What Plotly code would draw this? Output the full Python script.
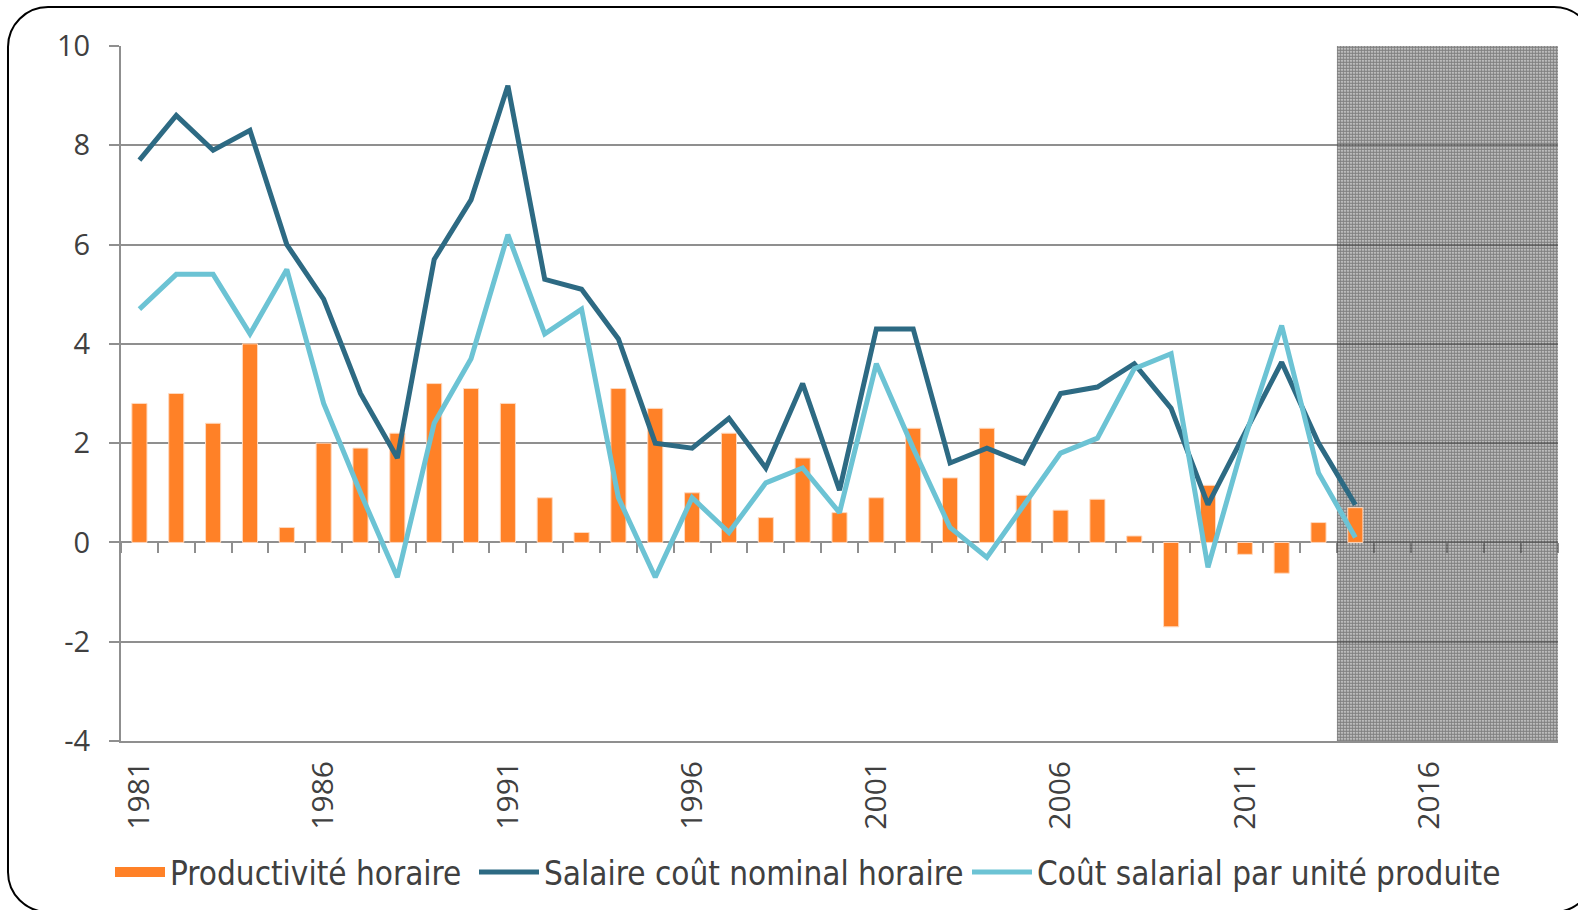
import plotly.graph_objects as go

# ---- data ----
years = list(range(1981, 2015))
productivite = [2.8, 3.0, 2.4, 4.0, 0.3, 2.0, 1.9, 2.2, 3.2, 3.1,
                2.8, 0.9, 0.2, 3.1, 2.7, 1.0, 2.2, 0.5, 1.7, 0.6,
                0.9, 2.3, 1.3, 2.3, 0.95, 0.65, 0.87, 0.13, -1.7, 1.15,
                -0.24, -0.62, 0.4, 0.7]
salaire_nominal = [7.7, 8.6, 7.9, 8.3, 6.0, 4.9, 3.0, 1.7, 5.7, 6.9,
                   9.2, 5.3, 5.1, 4.1, 2.0, 1.9, 2.5, 1.5, 3.2, 1.05,
                   4.3, 4.3, 1.6, 1.9, 1.6, 3.0, 3.13, 3.6, 2.7, 0.76,
                   2.2, 3.63, 2.0, 0.76]
cout_unitaire = [4.7, 5.4, 5.4, 4.2, 5.5, 2.8, 1.0, -0.7, 2.4, 3.7,
                 6.2, 4.2, 4.7, 0.9, -0.7, 0.9, 0.2, 1.2, 1.5, 0.6,
                 3.6, 1.9, 0.3, -0.3, 0.75, 1.8, 2.1, 3.5, 3.8, -0.5,
                 2.1, 4.37, 1.4, 0.1]
axis_first_year, axis_last_year = 1981, 2019
forecast_first_year = 2014
tick_years = [1981, 1986, 1991, 1996, 2001, 2006, 2011, 2016]
y_ticks = [-4, -2, 0, 2, 4, 6, 8, 10]
y_min, y_max = -4, 10
series_names = ["Productivité horaire", "Salaire coût nominal horaire",
                "Coût salarial par unité produite"]

# ---- styling ----
W, H = 1578, 910
ML, MR, MT, MB = 121, 20, 46, 169
ORANGE = "#FF8127"
DARK = "#2D6A83"
CYAN = "#6CC3D4"
GRID = "#8F8F8F"
TXT = "#404040"
LEG_FONT = dict(family="DejaVu Sans Condensed, DejaVu Sans", size=33, color=TXT)

x_lo = axis_first_year - 0.5
x_hi = axis_last_year + 0.5
fx0 = forecast_first_year - 0.5

plot_w = W - ML - MR
plot_h = H - MT - MB

fig = go.Figure()

# forecast period shading (dotted texture), drawn first among bars
fig.add_trace(go.Bar(
    x=[(fx0 + x_hi) / 2], y=[y_max - y_min], base=[y_min],
    width=[x_hi - fx0],
    marker=dict(color="rgba(0,0,0,0)", line=dict(width=0),
                pattern=dict(shape=".", fgcolor="#1E1E1E",
                             bgcolor="rgba(180,180,180,0.35)",
                             size=3, solidity=0.75, fillmode="overlay")),
    hoverinfo="skip", showlegend=False))

fig.add_trace(go.Bar(
    x=years, y=productivite, name=series_names[0],
    marker=dict(color=ORANGE, line=dict(color="#FFD9BF", width=1)),
    width=0.41, showlegend=False))
# legend entry for the bars (wide rectangle symbol)
fig.add_trace(go.Scatter(
    x=[None], y=[None], name=series_names[0], mode="lines",
    line=dict(color=ORANGE, width=17), legend="legend"))
fig.add_trace(go.Scatter(
    x=years, y=salaire_nominal, name=series_names[1],
    mode="lines", line=dict(color=DARK, width=5), legend="legend2"))
fig.add_trace(go.Scatter(
    x=years, y=cout_unitaire, name=series_names[2],
    mode="lines", line=dict(color=CYAN, width=5), legend="legend3"))

# zero-line axis carrying the category boundary ticks
fig.add_trace(go.Scatter(x=[None], y=[None], xaxis="x2", showlegend=False,
                         hoverinfo="skip"))


def px2paper(px, py):
    return (px - ML) / plot_w, (H - MB - py) / plot_h


def rounded_rect(x0, y0, x1, y1, r):
    k = 0.5523 * r

    def P(x, y):
        a, b = px2paper(x, y)
        return f"{a:.5f},{b:.5f}"
    path = f"M{P(x0 + r, y0)} L{P(x1 - r, y0)} "
    path += f"C{P(x1 - r + k, y0)} {P(x1, y0 + r - k)} {P(x1, y0 + r)} "
    path += f"L{P(x1, y1 - r)} "
    path += f"C{P(x1, y1 - r + k)} {P(x1 - r + k, y1)} {P(x1 - r, y1)} "
    path += f"L{P(x0 + r, y1)} "
    path += f"C{P(x0 + r - k, y1)} {P(x0, y1 - r + k)} {P(x0, y1 - r)} "
    path += f"L{P(x0, y0 + r)} "
    path += f"C{P(x0, y0 + r - k)} {P(x0 + r - k, y0)} {P(x0 + r, y0)} Z"
    return path


fig.add_shape(type="path", xref="paper", yref="paper",
              path=rounded_rect(8, 7, 1594, 912, 40),
              line=dict(color="black", width=2), fillcolor="rgba(0,0,0,0)",
              layer="above")

zero_pos = (0 - y_min) / (y_max - y_min)
leg_center_px = 872
leg_y = -(leg_center_px - (H - MB)) / plot_h


def leg(text_start_px, itemwidth=60, offset=72):
    return dict(orientation="h", x=(text_start_px - offset - ML) / plot_w,
                xanchor="left", y=leg_y, yanchor="middle", itemwidth=itemwidth,
                font=LEG_FONT, bgcolor="rgba(0,0,0,0)")


fig.update_layout(
    width=W, height=H,
    margin=dict(l=ML, r=MR, t=MT, b=MB, autoexpand=False),
    paper_bgcolor="white", plot_bgcolor="white",
    font=dict(family="Open Sans, DejaVu Sans", size=29, color=TXT),
    barmode="overlay",
    xaxis=dict(range=[x_lo, x_hi], tickmode="array", tickvals=tick_years,
               ticktext=[str(t) for t in tick_years], tickangle=-90,
               showgrid=False, zeroline=False, ticks="",
               showline=True, linecolor=GRID, linewidth=2,
               ticklabelstandoff=6,
               tickfont=dict(family="Open Sans", size=30, color=TXT)),
    xaxis2=dict(range=[x_lo, x_hi], overlaying="x", anchor="free",
                position=zero_pos, tick0=x_lo, dtick=1, ticks="outside",
                ticklen=10, tickwidth=2, tickcolor=GRID,
                showticklabels=False, showgrid=False, zeroline=False,
                showline=True, linecolor=GRID, linewidth=2,
                layer="below traces"),
    yaxis=dict(range=[y_min, y_max], tickmode="array", tickvals=y_ticks,
               ticktext=[str(v) for v in y_ticks],
               showgrid=True, gridcolor=GRID, gridwidth=2,
               zeroline=False, showline=True, linecolor=GRID, linewidth=2,
               ticks="outside", ticklen=10, tickwidth=2, tickcolor=GRID,
               ticklabelstandoff=13,
               tickfont=dict(family="Open Sans", size=29, color=TXT)),
    legend=leg(172, itemwidth=50, offset=62),
    legend2=leg(546),
    legend3=leg(1039),
    showlegend=True,
)

fig.write_html("out.html", config={"displayModeBar": False},
               post_script="document.body.style.margin='0px';"
                           "document.body.style.overflow='hidden';")
